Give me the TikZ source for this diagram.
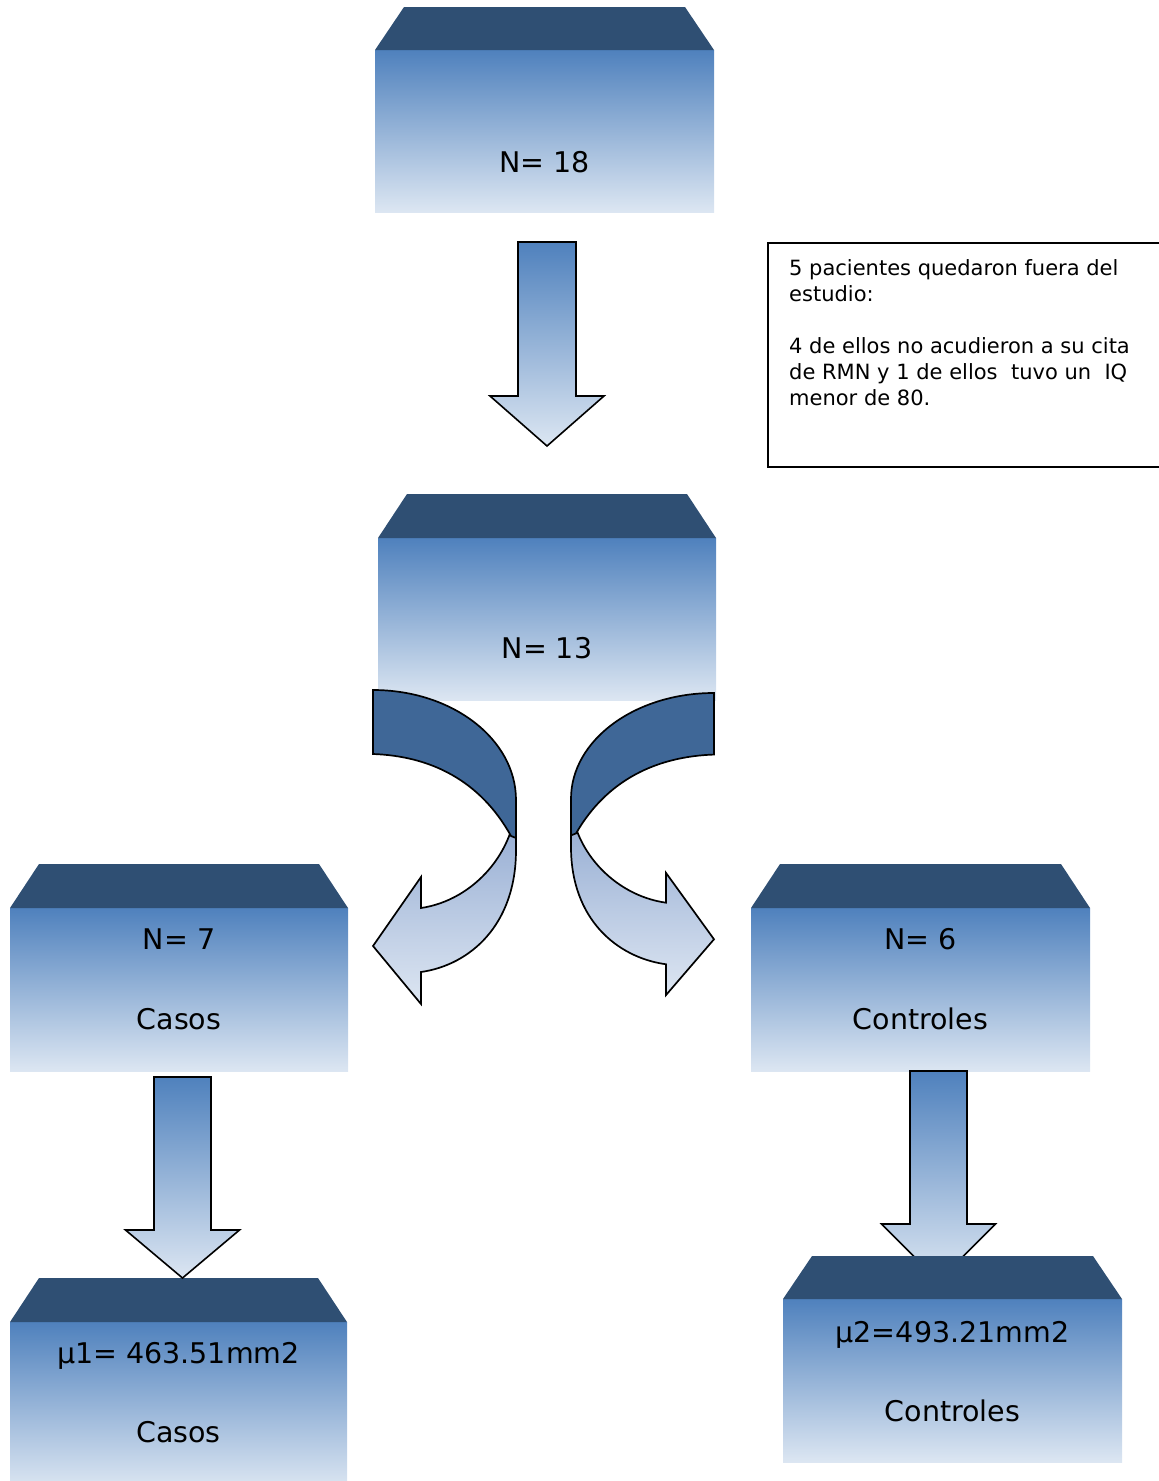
\documentclass[tikz,border=0pt]{standalone}
\usepackage{fontspec}
\setmainfont{DejaVu Sans}
\definecolor{boxblue}{HTML}{4F81BD}
\definecolor{boxlight}{HTML}{DCE6F2}
\definecolor{boxtop}{HTML}{2F4F73}
\definecolor{curvedark}{HTML}{3F6797}
\definecolor{curvelight}{HTML}{8DA6CF}
\definecolor{curvepale}{HTML}{DDE6F2}
\tikzset{
  boxbody/.style={rectangle, inner sep=0pt, outer sep=0pt, draw=none,
    top color=boxblue, bottom color=boxlight},
  boxlid/.style={fill=boxtop},
  blockarrow/.style={draw=black, line width=1.6pt, line join=miter,
    top color=boxblue, bottom color=boxlight},
  curvefront/.style={draw=black, line width=1.7pt, line join=miter,
    top color=curvelight, bottom color=curvepale},
  curveback/.style={draw=black, line width=1.7pt, line join=miter, fill=curvedark},
  bigtext/.style={font=\fontsize{28.5}{34}\selectfont, anchor=base, inner sep=0pt},
  notebox/.style={rectangle, draw=black, line width=2pt, inner sep=0pt, outer sep=0pt,
    anchor=north west},
  notetext/.style={anchor=base west, inner sep=0pt}
}
% #1 name, #2 centre x, #3 width, #4 lid top y, #5 lid height, #6 body height, #7 lid inset
\newcommand{\flowbox}[7]{%
  \node[boxbody, minimum width=#3pt, minimum height=#6pt, anchor=north] (#1) at (#2,#4+#5) {};
  \path[boxlid] (#1.north west) -- ([xshift=#7pt, yshift=#5pt]#1.north west)
    -- ([xshift=-#7pt, yshift=#5pt]#1.north east) -- (#1.north east) -- cycle;
}
% #1 centre x, #2 shaft half width, #3 top y, #4 shaft bottom y, #5 head half width, #6 tip y
\newcommand{\downblock}[6]{%
  \path[blockarrow] (#1-#2,#3) -- (#1+#2,#3) -- (#1+#2,#4) -- (#1+#5,#4) -- (#1,#6)
    -- (#1-#5,#4) -- (#1-#2,#4) -- cycle;
}
\newcommand{\curvedblock}{%
  \path[curvefront] (516,800) -- (516,850) .. controls (516,925) and (470,965) .. (421,972)
    -- (421,1004) -- (373,946) -- (421,877) -- (421,908)
    .. controls (475,900) and (516,850) .. (516,800) -- cycle;
  \path[curveback] (373,690) .. controls (452,690) and (516,739) .. (516,800)
    -- (516,838) -- (511,836) .. controls (480,780) and (430,756) .. (373,754) -- cycle;
}
\begin{document}
\begin{tikzpicture}[x=1pt, y=-1pt]
\useasboundingbox (0,0) rectangle (1159,1481);

% boxes
\flowbox{b18}{544.5}{339}{7}{43}{162}{29}
\flowbox{b13}{547}{338}{494}{44}{162}{29}
\flowbox{casos}{179}{338}{864}{44}{163}{29}
\flowbox{controles}{920.5}{339}{864}{44}{163}{29}
\flowbox{mucasos}{178.5}{337}{1278}{44}{166}{29}

% straight block arrows
\downblock{547}{29}{242}{396}{57}{446}
\downblock{182.5}{28.5}{1077}{1230}{57}{1278}
\downblock{938.5}{28.5}{1071}{1224}{57}{1281}

% curved block arrows
\begin{scope}
  \curvedblock
\end{scope}
\begin{scope}[shift={(1087,29.2)}, xscale=-1, yscale=0.962]
  \curvedblock
\end{scope}

\flowbox{mucontroles}{952.5}{339}{1256}{43}{163}{29}

% texts
\node[bigtext] (t18) at (544.5,172) {N= 18};
\node[bigtext] (t13) at (547,658) {N= 13};
\node[bigtext] (t7) at (179,949) {N= 7};
\node[bigtext] (tcasos) at (179,1029) {Casos};
\node[bigtext] (t6) at (920.5,949) {N= 6};
\node[bigtext] (tcontroles) at (920.5,1029) {Controles};
\node[bigtext] (tmu1) at (178.5,1363) {µ1= 463.51mm2};
\node[bigtext] (tcasos2) at (178.5,1442) {Casos};
\node[bigtext] (tmu2) at (952.5,1342) {µ2=493.21mm2};
\node[bigtext] (tcontroles2) at (952.5,1421) {Controles};

% note
\node[notebox, minimum width=410pt, minimum height=224pt] (note) at (768,243) {};
\node[notetext] (notetxt) at (789,275.7) {\vtop{\hsize=370pt\parindent=0pt
  \fontsize{21}{26}\selectfont\baselineskip=26pt
  5 pacientes quedaron fuera del\par
  estudio:\par
  \vskip26pt
  4 de ellos no acudieron a su cita\par
  de RMN y 1 de ellos\ \ tuvo un\ \ IQ\par
  menor de 80.}};
\end{tikzpicture}
\end{document}
